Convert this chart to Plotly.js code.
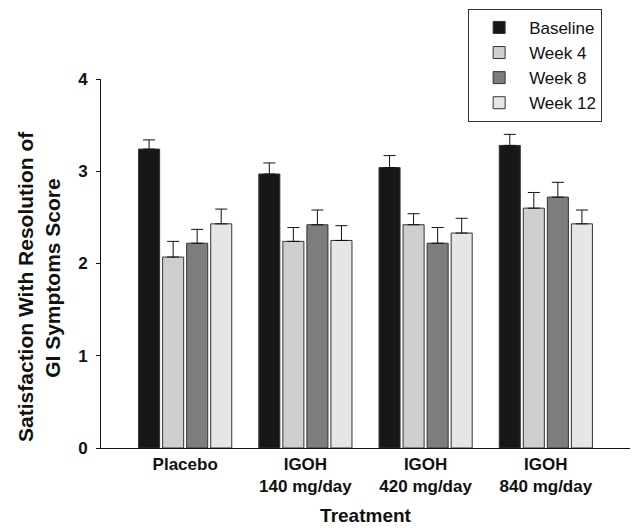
<!DOCTYPE html>
<html>
<head>
<meta charset="utf-8">
<script src="https://cdn.plot.ly/plotly-3.0.1.min.js"></script>
<style>html,body{margin:0;padding:0;background:#fff;}#chart{width:631px;height:528px;}</style>
</head>
<body>
<div id="chart"></div>
<script>
const categories = ["Placebo", "IGOH<br>140 mg/day", "IGOH<br>420 mg/day", "IGOH<br>840 mg/day"];
const seriesNames = ["Baseline", "Week 4", "Week 8", "Week 12"];
const baseline = [3.24, 2.97, 3.04, 3.28];
const week4 = [2.07, 2.24, 2.42, 2.60];
const week8 = [2.22, 2.42, 2.22, 2.72];
const week12 = [2.43, 2.25, 2.33, 2.43];
const baselineErr = [0.10, 0.12, 0.13, 0.12];
const week4Err = [0.17, 0.15, 0.12, 0.17];
const week8Err = [0.15, 0.16, 0.17, 0.16];
const week12Err = [0.16, 0.16, 0.16, 0.15];
const colors = ["#171717", "#cfcfcf", "#7d7d7d", "#e6e6e6"];
const yTitleLines = ["Satisfaction With Resolution of", "GI Symptoms Score"];

const values = [baseline, week4, week8, week12];
const errs = [baselineErr, week4Err, week8Err, week12Err];

const traces = seriesNames.map((name, i) => ({
  type: "bar",
  name: name,
  x: categories,
  y: values[i],
  marker: {color: colors[i], line: {color: "#333", width: 1}},
  error_y: {type: "data", array: errs[i], arrayminus: errs[i].map(() => 0), symmetric: false,
            color: "#111", thickness: 1, width: 6}
}));

const pad = n => "&nbsp;".repeat(n);

const layout = {
  width: 631, height: 528,
  margin: {l: 101, r: 1, t: 79, b: 80},
  paper_bgcolor: "#fff", plot_bgcolor: "#fff",
  font: {family: "Liberation Sans, Arial, sans-serif", color: "#111"},
  barmode: "group",
  bargap: 0.2,
  bargroupgap: 0.125,
  showlegend: true,
  legend: {x: 0.694, y: 1.19, xanchor: "left", yanchor: "top",
           bordercolor: "#333", borderwidth: 1, bgcolor: "#fff",
           font: {size: 17, color: "#111"}, tracegroupgap: 0, itemwidth: 50},
  xaxis: {
    type: "category", range: [-0.7, 3.7],
    showline: true, linecolor: "#111", linewidth: 1.2,
    ticks: "", showgrid: false, zeroline: false,
    tickfont: {size: 17, weight: "bold"},
    title: {text: "<b>Treatment</b>", font: {size: 19}, standoff: 14}
  },
  yaxis: {
    range: [0, 4], dtick: 1, tick0: 0,
    showline: true, linecolor: "#111", linewidth: 1.2,
    ticks: "outside", ticklen: 4, tickcolor: "#111",
    ticksuffix: "&nbsp;",
    showgrid: false, zeroline: false,
    tickfont: {size: 17, weight: "bold"},
    title: {text: "<b>" + yTitleLines[0] + pad(8) + "<br>" + yTitleLines[1] + pad(5) + "</b>",
            font: {size: 21}, standoff: 11}
  }
};

Plotly.newPlot("chart", traces, layout, {displayModeBar: false, staticPlot: true});
</script>
</body>
</html>
